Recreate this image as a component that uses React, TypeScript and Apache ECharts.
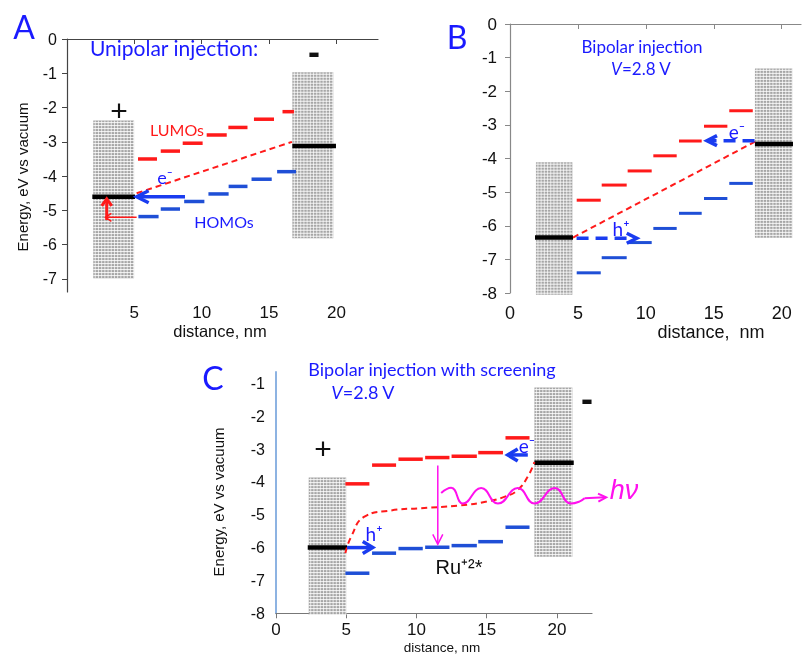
import React, { useEffect, useRef } from "react";
import * as echarts from "echarts";

// ---------- Panel A data ----------
const A_LUMO = [[5.27, 6.68, -3.5], [6.96, 8.39, -3.27], [8.59, 10.07, -3.04], [10.37, 11.86, -2.8], [11.98, 13.4, -2.58], [13.88, 15.37, -2.34], [16.0, 16.85, -2.12]];
const A_HOMO = [[5.3, 6.8, -5.18], [6.96, 8.39, -4.96], [8.7, 10.2, -4.74], [10.5, 12.0, -4.52], [12.0, 13.4, -4.3], [13.7, 15.2, -4.09], [15.6, 17.0, -3.87]];
const A_FERMI = [[1.88, 5.05, -4.6], [16.73, 19.97, -3.12]];
const A_ELECTRODES = [[1.95, 4.98, -2.38, -6.98], [16.73, 19.77, -0.97, -5.81]];
const A_DASH = [[5.17, -4.5], [16.7, -3.0]];
const A_ARROW_BLUE = [[8.76, -4.6, 5.17, -4.6]];
const A_ARROW_RED_THICK = [[2.95, -5.28, 2.95, -4.66]];
const A_ARROW_RED_THIN = [[5.17, -5.2, 2.85, -5.2]];
const A_X_TICKS = [0, 5, 10, 15, 20];
const A_X_LABELS = [5, 10, 15, 20];
const A_Y_TICKS = [0, -1, -2, -3, -4, -5, -6, -7];

// ---------- Panel B data ----------
const B_LUMO = [[4.91, 6.68, -5.24], [6.75, 8.59, -4.79], [8.66, 10.43, -4.37], [10.55, 12.27, -3.92], [12.44, 14.11, -3.48], [14.28, 16.0, -3.04], [16.14, 17.87, -2.58]];
const B_HOMO = [[4.91, 6.68, -7.4], [6.75, 8.59, -6.95], [8.66, 10.43, -6.5], [10.55, 12.27, -6.08], [12.44, 14.11, -5.63], [14.28, 16.0, -5.19], [16.14, 17.87, -4.74]];
const B_FERMI = [[1.84, 4.64, -6.35], [18.03, 20.83, -3.57]];
const B_ELECTRODES = [[1.91, 4.59, -4.11, -8.05], [18.03, 20.78, -1.32, -6.36]];
const B_DASH = [[4.64, -6.35], [18.03, -3.5]];
const B_ARROW_H = [[4.9, -6.37, 9.33, -6.37]];
const B_ARROW_E = [[18.0, -3.47, 14.5, -3.47]];

// ---------- Panel C data ----------
const C_LUMO = [[4.94, 6.65, -4.06], [6.84, 8.55, -3.49], [8.72, 10.45, -3.31], [10.62, 12.35, -3.26], [12.5, 14.3, -3.22], [14.4, 16.16, -3.11], [16.34, 18.05, -2.66]];
const C_HOMO = [[4.94, 6.65, -6.78], [6.84, 8.55, -6.17], [8.72, 10.45, -6.03], [10.62, 12.35, -5.99], [12.5, 14.3, -5.94], [14.4, 16.16, -5.82], [16.34, 18.05, -5.38]];
const C_FERMI = [[2.26, 5.06, -6.0], [18.4, 21.2, -3.42]];
const C_ELECTRODES = [[2.33, 5.0, -3.87, -8.05], [18.4, 21.1, -1.13, -6.28]];
const C_CURVE = [[4.94, -6.17], [5.35, -5.67], [6.3, -5.06], [8.2, -4.87], [10.33, -4.8], [13.0, -4.72], [15.0, -4.6], [16.3, -4.45], [17.2, -4.25], [17.93, -3.84], [18.4, -3.4]];
const C_WAVE = [[11.76, -4.34], [12.47, -4.18], [13.31, -4.66], [14.61, -4.19], [15.8, -4.66], [17.22, -4.19], [18.4, -4.66], [19.85, -4.19], [21.0, -4.66], [21.6, -4.6], [21.97, -4.5]];
const C_ARROW_WAVE = [[21.97, -4.5, 23.51, -4.47]];
const C_ARROW_DROP = [[11.52, -3.5, 11.52, -5.9]];
const C_ARROW_H = [[5.06, -6.0, 6.89, -6.0]];
const C_ARROW_E = [[17.93, -3.18, 16.5, -3.18]];
const C_Y_TICKS = [-1, -2, -3, -4, -5, -6, -7, -8];

const RED = "#ff1a1a";
const BLUE_LVL = "#1f4fd6";
const BLUE_TXT = "#1a1aff";
const BLUE_ARR = "#1a3cf0";
const MAGENTA = "#ff10ee";
const TICK_FONT = "'Liberation Sans', Arial, sans-serif";
const LABEL_FONT = "Lato, 'Open Sans', sans-serif";

function electrodeSeries(data: number[][], gi: number) {
  return {
    type: "custom",
    xAxisIndex: gi,
    yAxisIndex: gi,
    z: 1,
    silent: true,
    clip: false,
    data,
    encode: { x: [0, 1], y: [2, 3] },
    renderItem: (_p: any, api: any) => {
      const a = api.coord([api.value(0), api.value(2)]);
      const b = api.coord([api.value(1), api.value(3)]);
      const x = a[0], y = a[1], w = b[0] - a[0], h = b[1] - a[1];
      const children: any[] = [
        { type: "rect", shape: { x, y, width: w, height: h }, style: { fill: "#a6a6a6" } },
      ];
      for (let yy = y + 2; yy < y + h; yy += 3) {
        children.push({ type: "line", shape: { x1: x, y1: yy, x2: x + w, y2: yy }, style: { stroke: "#ffffff", lineWidth: 1, opacity: 0.85 } });
      }
      for (let xx = x + 2; xx < x + w; xx += 3.2) {
        children.push({ type: "line", shape: { x1: xx, y1: y, x2: xx, y2: y + h }, style: { stroke: "#ffffff", lineWidth: 1, opacity: 0.7 } });
      }
      return { type: "group", children };
    },
  };
}

function levelSeries(data: number[][], gi: number, color: string, width: number) {
  return {
    type: "custom",
    xAxisIndex: gi,
    yAxisIndex: gi,
    z: 3,
    silent: true,
    clip: false,
    data,
    encode: { x: [0, 1], y: 2 },
    renderItem: (_p: any, api: any) => {
      const a = api.coord([api.value(0), api.value(2)]);
      const b = api.coord([api.value(1), api.value(2)]);
      return { type: "line", shape: { x1: a[0], y1: a[1], x2: b[0], y2: b[1] }, style: { stroke: color, lineWidth: width } };
    },
  };
}

function arrowSeries(data: number[][], gi: number, color: string, width: number, headLen: number, headHalf: number, dash?: number[]) {
  return {
    type: "custom",
    xAxisIndex: gi,
    yAxisIndex: gi,
    z: 6,
    silent: true,
    clip: false,
    data,
    encode: { x: [0, 2], y: [1, 3] },
    renderItem: (_p: any, api: any) => {
      const p1 = api.coord([api.value(0), api.value(1)]);
      const p2 = api.coord([api.value(2), api.value(3)]);
      const dx = p2[0] - p1[0], dy = p2[1] - p1[1];
      const len = Math.hypot(dx, dy) || 1;
      const ux = dx / len, uy = dy / len;
      const nx = -uy, ny = ux;
      const hx = p2[0] - ux * headLen, hy = p2[1] - uy * headLen;
      const ex = p2[0] - ux * width * 0.6, ey = p2[1] - uy * width * 0.6;
      return {
        type: "group",
        children: [
          { type: "line", shape: { x1: p1[0], y1: p1[1], x2: ex, y2: ey }, style: { stroke: color, lineWidth: width, lineDash: dash || null } },
          {
            type: "polyline",
            shape: { points: [[hx + nx * headHalf, hy + ny * headHalf], [p2[0], p2[1]], [hx - nx * headHalf, hy - ny * headHalf]] },
            style: { stroke: color, lineWidth: width, fill: "none", lineJoin: "miter" },
          },
        ],
      };
    },
  };
}

function lineSeries(data: number[][], gi: number, color: string, width: number, dashed: boolean, smooth: boolean | number) {
  return {
    type: "line",
    xAxisIndex: gi,
    yAxisIndex: gi,
    z: 4,
    silent: true,
    clip: false,
    data,
    smooth,
    showSymbol: false,
    symbol: "none",
    lineStyle: { color, width, type: dashed ? [6, 4] : "solid" },
  };
}

function txt(text: string, x: number, y: number, size: number, color: string, opts: any = {}) {
  return {
    type: "text",
    x,
    y,
    rotation: opts.rotation || 0,
    silent: true,
    z: 10,
    style: {
      text,
      fill: color,
      fontSize: size,
      fontFamily: opts.family || LABEL_FONT,
      fontStyle: opts.italic ? "italic" : "normal",
      fontWeight: opts.bold ? "bold" : "normal",
      align: opts.align || "center",
      verticalAlign: "middle",
      rich: opts.rich,
    },
  };
}

export default function App() {
  const ref = useRef<HTMLDivElement>(null);
  useEffect(() => {
    if (!ref.current) return;
    const chart = echarts.init(ref.current, null, { renderer: "svg" });
    const vItalic = (size: number) => ({
      i: { fontStyle: "italic", fontSize: size, fontFamily: LABEL_FONT, fill: BLUE_TXT },
      n: { fontSize: size, fontFamily: LABEL_FONT, fill: BLUE_TXT },
    });
    const option: any = {
      animation: false,
      grid: [
        { left: 67, top: 39, width: 311, height: 253 },
        { left: 510, top: 24, width: 291, height: 269 },
        { left: 276, top: 372, width: 316, height: 241.3 },
      ],
      xAxis: [
        {
          gridIndex: 0, type: "value", min: 0, max: 23.09,
          axisLine: { lineStyle: { color: "#444", width: 1.2 } },
          axisTick: { length: 5, customValues: A_X_TICKS, lineStyle: { color: "#444" } },
          axisLabel: { customValues: A_X_LABELS, fontSize: 17, color: "#111", fontFamily: TICK_FONT, margin: 12 },
          splitLine: { show: false },
        },
        {
          gridIndex: 1, type: "value", min: 0, max: 21.42, interval: 5,
          axisLine: { lineStyle: { color: "#888", width: 1.2 } },
          axisTick: { length: 5, lineStyle: { color: "#888" } },
          axisLabel: { fontSize: 18, color: "#111", fontFamily: TICK_FONT, margin: 11, showMaxLabel: false },
          splitLine: { show: false },
        },
        {
          gridIndex: 2, type: "value", min: 0, max: 22.5, interval: 5,
          axisLine: { lineStyle: { color: "#777", width: 1.2 } },
          axisTick: { length: 5, lineStyle: { color: "#777" } },
          axisLabel: { fontSize: 17, color: "#111", fontFamily: TICK_FONT, margin: 8, showMaxLabel: false },
          splitLine: { show: false },
        },
      ],
      yAxis: [
        {
          gridIndex: 0, type: "value", min: -7.38, max: 0,
          axisLine: { show: true, lineStyle: { color: "#444", width: 1.2 } },
          axisTick: { show: true, length: 5, customValues: A_Y_TICKS, lineStyle: { color: "#444" } },
          axisLabel: { customValues: A_Y_TICKS, fontSize: 16, color: "#111", fontFamily: TICK_FONT, margin: 10 },
          splitLine: { show: false },
        },
        {
          gridIndex: 1, type: "value", min: -8, max: 0, interval: 1,
          axisLine: { show: true, lineStyle: { color: "#888", width: 1.2 } },
          axisTick: { show: true, length: 5, lineStyle: { color: "#888" } },
          axisLabel: { fontSize: 17, color: "#111", fontFamily: TICK_FONT, margin: 13 },
          splitLine: { show: false },
        },
        {
          gridIndex: 2, type: "value", min: -8, max: -0.656,
          axisLine: { show: true, lineStyle: { color: "#8db3e2", width: 2 } },
          axisTick: { show: false, customValues: C_Y_TICKS },
          axisLabel: { customValues: C_Y_TICKS, fontSize: 16, color: "#111", fontFamily: TICK_FONT, margin: 11 },
          splitLine: { show: false },
        },
      ],
      series: [
        // Panel A
        electrodeSeries(A_ELECTRODES, 0),
        levelSeries(A_LUMO, 0, RED, 3.5),
        levelSeries(A_HOMO, 0, BLUE_LVL, 3.5),
        levelSeries(A_FERMI, 0, "#000", 4.5),
        lineSeries(A_DASH, 0, RED, 2, true, false),
        arrowSeries(A_ARROW_BLUE, 0, BLUE_ARR, 3.5, 12, 6),
        arrowSeries(A_ARROW_RED_THICK, 0, RED, 3, 7, 5),
        arrowSeries(A_ARROW_RED_THIN, 0, RED, 1.5, 6, 4),
        // Panel B
        electrodeSeries(B_ELECTRODES, 1),
        levelSeries(B_LUMO, 1, RED, 3),
        levelSeries(B_HOMO, 1, BLUE_LVL, 3),
        levelSeries(B_FERMI, 1, "#000", 4.5),
        lineSeries(B_DASH, 1, RED, 2, true, false),
        arrowSeries(B_ARROW_H, 1, BLUE_ARR, 3.5, 10, 5, [12, 7]),
        arrowSeries(B_ARROW_E, 1, BLUE_ARR, 3.5, 10, 5, [12, 7]),
        // Panel C
        electrodeSeries(C_ELECTRODES, 2),
        levelSeries(C_LUMO, 2, RED, 3.5),
        levelSeries(C_HOMO, 2, BLUE_LVL, 3.5),
        levelSeries(C_FERMI, 2, "#000", 4.5),
        lineSeries(C_CURVE, 2, RED, 2, true, true),
        lineSeries(C_WAVE, 2, MAGENTA, 2, false, true),
        arrowSeries(C_ARROW_WAVE, 2, MAGENTA, 2, 8, 4),
        arrowSeries(C_ARROW_DROP, 2, MAGENTA, 1.5, 10, 5),
        arrowSeries(C_ARROW_H, 2, BLUE_ARR, 3.5, 10, 6),
        arrowSeries(C_ARROW_E, 2, BLUE_ARR, 3.5, 10, 6),
      ],
      graphic: [
        // Panel A texts
        txt("A", 24, 26, 32, BLUE_TXT),
        txt("Unipolar injection:", 174, 47, 21, BLUE_TXT),
        txt("LUMOs", 177, 129, 16, RED),
        txt("HOMOs", 224, 221, 16, BLUE_TXT),
        txt("e⁻", 165, 177, 18, BLUE_TXT),
        txt("+", 119, 110, 30, "#111", { family: TICK_FONT }),
        txt("-", 314, 51, 36, "#111", { family: TICK_FONT, bold: true }),
        txt("distance, nm", 220, 331, 16.5, "#111", { family: TICK_FONT }),
        txt("Energy, eV vs vacuum", 22, 177, 15, "#111", { family: TICK_FONT, rotation: Math.PI / 2 }),
        // Panel B texts
        txt("B", 457, 36, 32, BLUE_TXT),
        txt("Bipolar injection", 642, 46, 17, BLUE_TXT),
        txt("{i|V}{n|=2.8 V}", 641, 68, 17, BLUE_TXT, { rich: vItalic(17) }),
        txt("h⁺", 621, 228, 19, BLUE_TXT),
        txt("e⁻", 737, 131, 19, BLUE_TXT),
        txt("distance,  nm", 711, 332, 18, "#111", { family: TICK_FONT }),
        // Panel C texts
        txt("C", 213, 377, 32, BLUE_TXT),
        txt("Bipolar injection with screening", 432, 369, 18, BLUE_TXT),
        txt("{i|V}{n|=2.8 V}", 363, 392, 18, BLUE_TXT, { rich: vItalic(18) }),
        txt("+", 323, 448, 30, "#111", { family: TICK_FONT }),
        txt("-", 587, 398, 36, "#111", { family: TICK_FONT, bold: true }),
        txt("e⁻", 527, 445, 19, BLUE_TXT),
        txt("h⁺", 374, 533, 19, BLUE_TXT),
        txt("Ru⁺²*", 459, 567, 20, "#111", { family: TICK_FONT }),
        txt("hν", 624, 490, 27, MAGENTA, { italic: true, family: TICK_FONT }),
        txt("distance, nm", 442, 647, 13.5, "#111", { family: TICK_FONT }),
        txt("Energy, eV vs vacuum", 218, 502, 15, "#111", { family: TICK_FONT, rotation: Math.PI / 2 }),
      ],
    };
    chart.setOption(option);
    return () => chart.dispose();
  }, []);
  return <div ref={ref} style={{ position: "fixed", left: 0, top: 0, width: 802, height: 654 }} />;
}
